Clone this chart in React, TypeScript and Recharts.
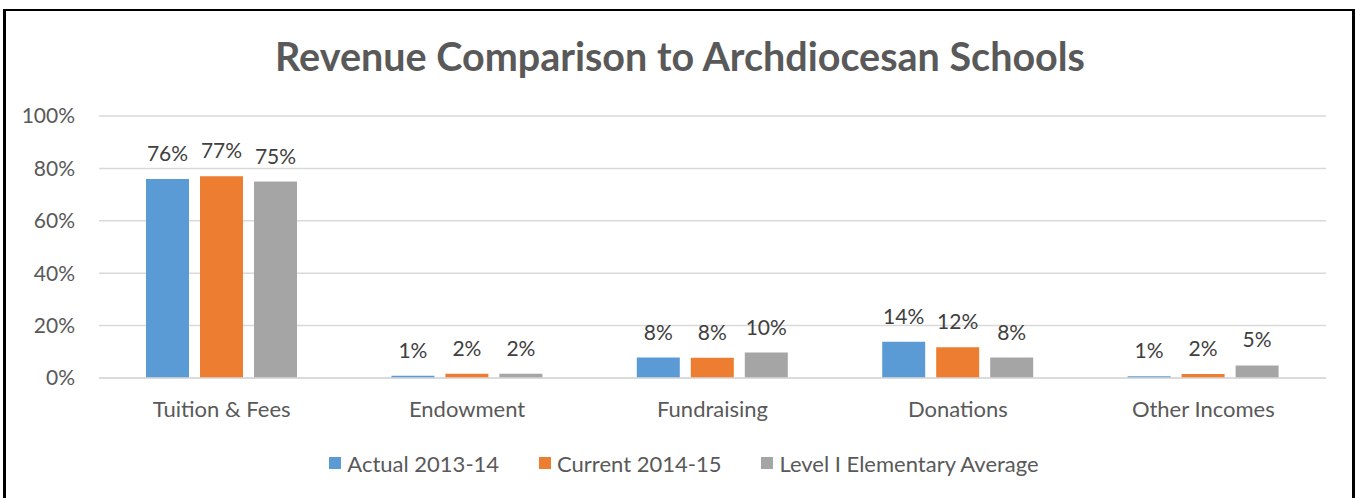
import { BarChart, Bar, CartesianGrid, XAxis, YAxis, Legend, LabelList } from "recharts";

const categories = ["Tuition & Fees", "Endowment", "Fundraising", "Donations", "Other Incomes"];
const actual = [76, 0.9, 7.8, 13.8, 0.7];
const current = [77, 1.6, 7.7, 11.7, 1.5];
const levelAvg = [75, 1.6, 9.7, 7.8, 4.8];
const yTicks = [0, 20, 40, 60, 80, 100];

const seriesNames = ["Actual 2013-14", "Current 2014-15", "Level I Elementary Average"];
const colors = ["#5B9BD5", "#ED7D31", "#A5A5A5"];

const data = categories.map((name, i) => ({
    name,
    actual: actual[i],
    current: current[i],
    levelAvg: levelAvg[i]
}));

const FONT = "Lato, 'Open Sans', sans-serif";

function LegendBox() {
    return (
        <div
            style={{
                display: "flex",
                justifyContent: "center",
                alignItems: "center",
                height: 30,
                fontFamily: FONT,
                fontSize: 22,
                color: "#595959",
                paddingLeft: 42
            }}
        >
            {seriesNames.map((s, i) => (
                <div key={s} style={{ display: "flex", alignItems: "center", marginRight: i < 2 ? 40 : 0 }}>
                    <span style={{ width: 12, height: 12, background: colors[i], marginRight: 6, display: "inline-block" }} />
                    <span>{s}</span>
                </div>
            ))}
        </div>
    );
}

const fmt = (v: any) => `${Math.round(Number(v))}%`;

export default function App() {
    return (
        <div style={{ position: "absolute", left: 0, top: 0, width: 1356, height: 498, background: "#fff", overflow: "hidden" }}>
            <div
                style={{
                    position: "absolute",
                    left: 3,
                    top: 9,
                    width: 1352,
                    height: 500,
                    borderStyle: "solid",
                    borderColor: "#000",
                    borderWidth: "2px 3px 0 3px",
                    boxSizing: "border-box"
                }}
            />
            <div
                style={{
                    position: "absolute",
                    left: 0,
                    top: 32,
                    width: 1360,
                    textAlign: "center",
                    fontFamily: FONT,
                    fontWeight: 700,
                    fontSize: 39.5,
                    color: "#595959"
                }}
            >
                Revenue Comparison to Archdiocesan Schools
            </div>
            <BarChart
                width={1356}
                height={498}
                data={data}
                margin={{ top: 116, right: 30, bottom: 20, left: 0 }}
                barSize={43}
                barGap={11}
                style={{ position: "absolute", left: 0, top: 0 }}
            >
                <CartesianGrid vertical={false} stroke="#D9D9D9" strokeWidth={1.5} />
                <XAxis
                    dataKey="name"
                    height={70}
                    tickLine={false}
                    axisLine={{ stroke: "#D9D9D9", strokeWidth: 1.5 }}
                    tickMargin={17}
                    tick={{ fill: "#595959", fontSize: 22, fontFamily: FONT }}
                />
                <YAxis
                    width={99}
                    domain={[0, 100]}
                    ticks={yTicks}
                    tickFormatter={(v) => `${v}%`}
                    tickLine={false}
                    axisLine={false}
                    tickMargin={18}
                    tick={{ fill: "#595959", fontSize: 21, fontFamily: FONT }}
                />
                <Legend verticalAlign="bottom" content={() => <LegendBox />} />
                <Bar dataKey="actual" name={seriesNames[0]} fill={colors[0]} isAnimationActive={false}>
                    <LabelList dataKey="actual" position="top" offset={18} formatter={fmt} fill="#404040" fontSize={21} fontFamily={FONT} />
                </Bar>
                <Bar dataKey="current" name={seriesNames[1]} fill={colors[1]} isAnimationActive={false}>
                    <LabelList dataKey="current" position="top" offset={18} formatter={fmt} fill="#404040" fontSize={21} fontFamily={FONT} />
                </Bar>
                <Bar dataKey="levelAvg" name={seriesNames[2]} fill={colors[2]} isAnimationActive={false}>
                    <LabelList dataKey="levelAvg" position="top" offset={18} formatter={fmt} fill="#404040" fontSize={21} fontFamily={FONT} />
                </Bar>
            </BarChart>
        </div>
    );
}
